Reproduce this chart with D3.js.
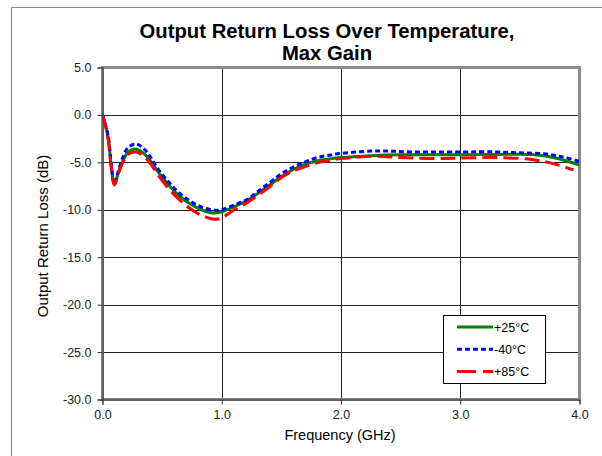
<!DOCTYPE html>
<html>
<head>
<meta charset="utf-8">
<script src="https://cdn.jsdelivr.net/npm/d3@7"></script>
<style>
  html, body { margin: 0; padding: 0; background: #fff; }
  svg { display: block; font-family: "Liberation Sans", Arial, sans-serif; }
</style>
</head>
<body>
<svg id="chart" width="602" height="456"></svg>
<script>
// Frequency points (GHz) and return loss (dB) per temperature
const freq25 = [0, 0.02, 0.05, 0.07, 0.1, 0.13, 0.17, 0.21, 0.28, 0.35, 0.4, 0.46, 0.55, 0.65, 0.75, 0.85, 0.93, 1.0, 1.1, 1.2, 1.3, 1.4, 1.5, 1.6, 1.7, 1.8, 1.9, 2.0, 2.25, 2.5, 3.0, 3.5, 3.7, 3.85, 4.0];
const rl25   = [0, -0.8, -2.6, -5.0, -7.3, -6.2, -4.9, -4.0, -3.6, -4.1, -4.8, -5.9, -7.3, -8.6, -9.5, -10.1, -10.35, -10.2, -9.7, -9.1, -8.3, -7.4, -6.5, -5.75, -5.2, -4.85, -4.65, -4.5, -4.3, -4.2, -4.2, -4.15, -4.3, -4.7, -5.3];

const freqM40 = [0, 0.02, 0.05, 0.07, 0.1, 0.13, 0.17, 0.21, 0.28, 0.35, 0.4, 0.46, 0.55, 0.65, 0.75, 0.85, 0.95, 1.0, 1.1, 1.2, 1.3, 1.4, 1.5, 1.6, 1.7, 1.8, 1.9, 2.0, 2.3, 2.6, 3.0, 3.3, 3.5, 3.7, 3.85, 4.0];
const rlM40   = [0, -0.8, -2.4, -4.8, -7.3, -6.0, -4.5, -3.5, -3.05, -3.6, -4.4, -5.6, -7.0, -8.3, -9.2, -9.8, -10.05, -10.0, -9.5, -9.0, -8.1, -7.15, -6.2, -5.5, -4.95, -4.5, -4.25, -4.05, -3.8, -3.9, -3.9, -3.9, -4.0, -4.1, -4.4, -4.9];

const freq85 = [0, 0.02, 0.05, 0.07, 0.1, 0.13, 0.17, 0.21, 0.28, 0.35, 0.4, 0.46, 0.55, 0.65, 0.75, 0.85, 0.95, 1.0, 1.1, 1.2, 1.3, 1.4, 1.5, 1.6, 1.7, 1.8, 1.9, 2.0, 2.3, 2.5, 2.8, 3.0, 3.3, 3.6, 3.8, 3.95];
const rl85   = [0, -0.9, -2.8, -5.2, -7.4, -6.3, -5.0, -4.2, -3.9, -4.4, -5.1, -6.2, -7.7, -9.0, -10.0, -10.7, -11.0, -10.85, -10.05, -9.35, -8.5, -7.6, -6.6, -5.9, -5.45, -5.05, -4.8, -4.6, -4.35, -4.5, -4.6, -4.55, -4.5, -4.7, -5.2, -5.8];

const seriesNames = ["+25°C", "-40°C", "+85°C"];
const xTicks = [0, 1, 2, 3, 4];
const yTicks = [5, 0, -5, -10, -15, -20, -25, -30];

const series = [
  { name: seriesNames[0], x: freq25,  y: rl25,  color: "#008000", dash: null },
  { name: seriesNames[1], x: freqM40, y: rlM40, color: "#0000ff", dash: "5,3" },
  { name: seriesNames[2], x: freq85,  y: rl85,  color: "#ff0000", dash: "15,6" }
];

const svg = d3.select("#chart");

// Outer chart frame (top and left edges)
svg.append("line").attr("x1", 11.5).attr("x2", 602).attr("y1", 7.5).attr("y2", 7.5)
  .attr("stroke", "#8a8a8a").attr("stroke-width", 1.2);
svg.append("line").attr("x1", 11.5).attr("x2", 11.5).attr("y1", 7.5).attr("y2", 456)
  .attr("stroke", "#8a8a8a").attr("stroke-width", 1.2);

const plot = { left: 102.5, right: 579.5, top: 67.5, bottom: 399.5 };

const x = d3.scaleLinear().domain([0, 4]).range([plot.left, plot.right]);
const y = d3.scaleLinear().domain([-30, 5]).range([plot.bottom, plot.top]);

// Title
const title = svg.append("text").attr("text-anchor", "middle")
  .attr("font-weight", "bold").attr("font-size", 20.3).attr("fill", "#000");
title.append("tspan").attr("x", 327).attr("y", 38).text("Output Return Loss Over Temperature,");
title.append("tspan").attr("x", 327).attr("y", 60).text("Max Gain");

// Gridlines
const grid = svg.append("g");
grid.selectAll(".hg").data(yTicks).join("line")
  .attr("x1", plot.left).attr("x2", plot.right)
  .attr("y1", d => Math.round(y(d)) + 0.5).attr("y2", d => Math.round(y(d)) + 0.5)
  .attr("stroke", "#222").attr("stroke-width", 1);
grid.selectAll(".vg").data(xTicks).join("line")
  .attr("y1", plot.top).attr("y2", plot.bottom)
  .attr("x1", d => Math.round(x(d)) + 0.5).attr("x2", d => Math.round(x(d)) + 0.5)
  .attr("stroke", "#222").attr("stroke-width", 1);

// Plot area border
svg.append("rect")
  .attr("x", plot.left).attr("y", plot.top)
  .attr("width", plot.right - plot.left).attr("height", plot.bottom - plot.top)
  .attr("fill", "none").attr("stroke", "#8c8c8c").attr("stroke-width", 3);

// Axes (plain hyphen for negatives)
const fmt = d => d.toFixed(1);
const yAxis = d3.axisLeft(y).tickValues(yTicks).tickFormat(fmt).tickSize(5).tickPadding(6);
const xAxis = d3.axisBottom(x).tickValues(xTicks).tickFormat(fmt).tickSize(5).tickPadding(6);

const gy = svg.append("g").attr("transform", `translate(${plot.left},0)`).call(yAxis);
const gx = svg.append("g").attr("transform", `translate(0,${plot.bottom})`).call(xAxis);
[gx, gy].forEach(g => {
  g.select(".domain").attr("stroke", "#333").attr("stroke-width", 1);
  g.selectAll(".tick line").attr("stroke", "#333");
  g.selectAll(".tick text").attr("font-size", 12.5).attr("fill", "#222")
    .attr("font-family", "'Liberation Sans', Arial, sans-serif");
});

// Axis titles
svg.append("text").attr("x", 340).attr("y", 440).attr("text-anchor", "middle")
  .attr("font-size", 14.5).attr("fill", "#000").text("Frequency (GHz)");
svg.append("text").attr("transform", "translate(47.5,236) rotate(-90)").attr("text-anchor", "middle")
  .attr("font-size", 15).attr("fill", "#000").text("Output Return Loss (dB)");

// Curves
svg.append("clipPath").attr("id", "plotClip").append("rect")
  .attr("x", plot.left).attr("y", plot.top)
  .attr("width", plot.right - plot.left).attr("height", plot.bottom - plot.top);

const line = d3.line().curve(d3.curveCatmullRom.alpha(0.5));
const curves = svg.append("g").attr("clip-path", "url(#plotClip)");
series.forEach(s => {
  const pts = s.x.map((f, i) => [x(f), y(s.y[i])]);
  curves.append("path").attr("d", line(pts))
    .attr("fill", "none").attr("stroke", s.color).attr("stroke-width", 3)
    .attr("stroke-dasharray", s.dash)
    .attr("stroke-linejoin", "round");
});

// Legend
const lg = svg.append("g");
lg.append("rect").attr("x", 443.5).attr("y", 315.5).attr("width", 102).attr("height", 68)
  .attr("fill", "#fff").attr("stroke", "#000").attr("stroke-width", 1);
series.forEach((s, i) => {
  const yy = 327 + i * 22.3;
  lg.append("line").attr("x1", 457).attr("x2", 493).attr("y1", yy).attr("y2", yy)
    .attr("stroke", s.color).attr("stroke-width", 3)
    .attr("stroke-dasharray", i === 2 ? "19,7" : s.dash);
  lg.append("text").attr("x", 494).attr("y", yy + 4.5).attr("font-size", 12.5)
    .attr("fill", "#000").text(s.name);
});
</script>
</body>
</html>
